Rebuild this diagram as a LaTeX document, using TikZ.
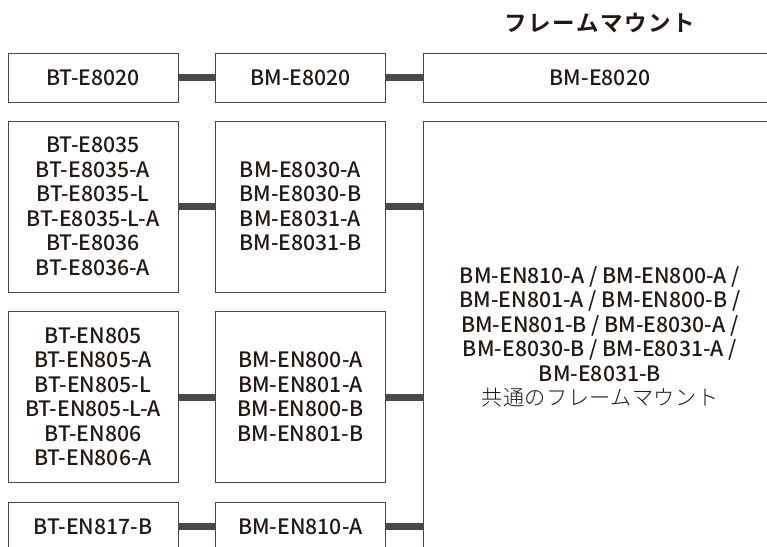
\documentclass[tikz,border=0pt]{standalone}
\usepackage{fontspec}
\setmainfont{Noto Sans CJK JP Medium}[BoldFont={Noto Sans CJK JP Bold}]
\newfontfamily\jplight{Noto Sans CJK JP Light}[LetterSpace=2]
\newfontfamily\jptitle{Noto Sans CJK JP Bold}[LetterSpace=7]
\definecolor{ink}{HTML}{231815}
\definecolor{edge}{HTML}{4A4646}
\definecolor{bar}{HTML}{4A4A4A}
\begin{document}
\begin{tikzpicture}[x=1pt,y=-1pt,
box/.style={draw=edge,line width=1pt,inner sep=0pt,align=center,text=ink,font=\fontsize{21.2}{24.5}\selectfont},
small/.style={box,minimum width=170pt,minimum height=49pt},
tall/.style={box,minimum width=170pt,minimum height=171pt},
link/.style={draw=bar,line width=7pt}]
\useasboundingbox[fill=white] (0,0) rectangle (767,546);
\clip (0,0) rectangle (767,546);
\node[text=ink,font=\fontsize{22.5}{24}\jptitle] (title) at (600,23) {フレームマウント};
\node[small] (bt1) at (93,77.5) {BT-E8020};
\node[small] (bm1) at (300.5,77.5) {BM-E8020};
\node[box,minimum width=354pt,minimum height=49pt] (fm1) at (600,77.5) {BM-E8020};
\node[tall] (bt2) at (93,206.5) {BT-E8035\\BT-E8035-A\\BT-E8035-L\\BT-E8035-L-A\\BT-E8036\\BT-E8036-A};
\node[tall] (bm2) at (300.5,206.5) {BM-E8030-A\\BM-E8030-B\\BM-E8031-A\\BM-E8031-B};
\node[tall] (bt3) at (93,397) {BT-EN805\\BT-EN805-A\\BT-EN805-L\\BT-EN805-L-A\\BT-EN806\\BT-EN806-A};
\node[tall] (bm3) at (300.5,397) {BM-EN800-A\\BM-EN801-A\\BM-EN800-B\\BM-EN801-B};
\node[small] (bt4) at (93,526.5) {BT-EN817-B};
\node[small] (bm4) at (300.5,526.5) {BM-EN810-A};
\node[box,minimum width=354pt,minimum height=432pt] (fm2) at (600,337) {BM-EN810-A / BM-EN800-A /\\BM-EN801-A / BM-EN800-B /\\BM-EN801-B / BM-E8030-A /\\BM-E8030-B / BM-E8031-A /\\BM-E8031-B\\{\jplight 共通のフレームマウント}};
\coordinate (j2) at (fm2.west |- bm2.east);
\coordinate (j3) at (fm2.west |- bm3.east);
\coordinate (j4) at (fm2.west |- bm4.east);
\draw[link] (bt1) -- (bm1);
\draw[link] (bm1) -- (fm1);
\draw[link] (bt2) -- (bm2);
\draw[link] (bm2.east) -- (j2);
\draw[link] (bt3) -- (bm3);
\draw[link] (bm3.east) -- (j3);
\draw[link] (bt4) -- (bm4);
\draw[link] (bm4.east) -- (j4);
\end{tikzpicture}
\end{document}
